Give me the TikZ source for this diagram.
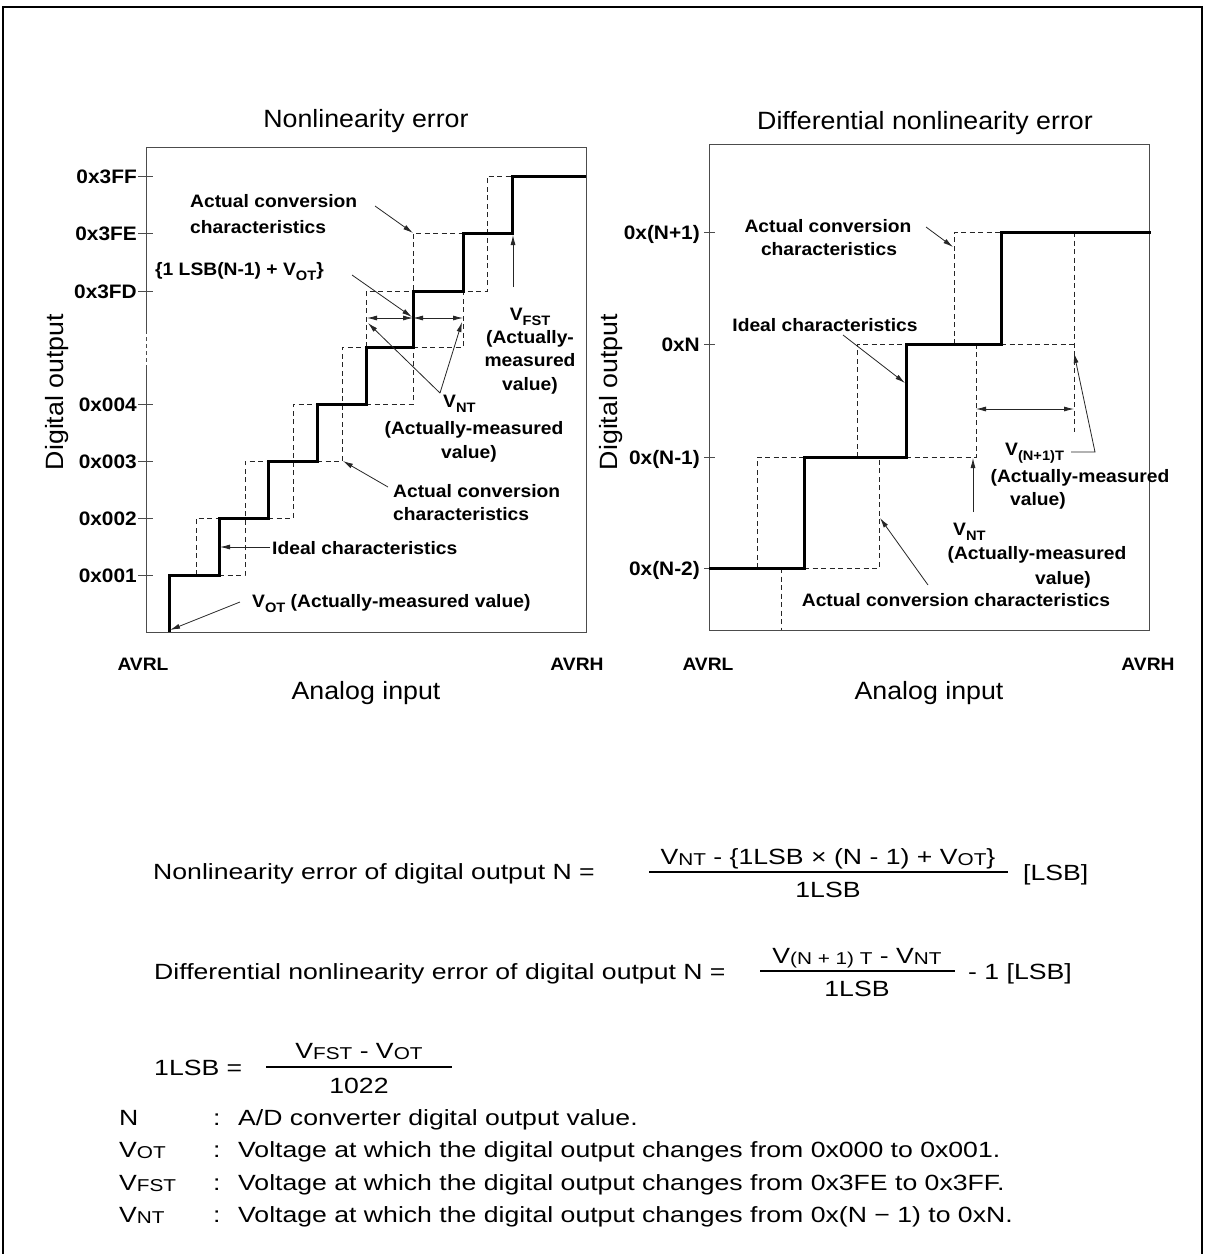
\documentclass[tikz,border=0pt]{standalone}
\usepackage{fontspec}
\usepackage{graphicx}
\setmainfont{Liberation Sans}
\newfontfamily\chartfam[FakeStretch=1.07]{Liberation Sans}
\newfontfamily\formfam[FakeStretch=1.21]{Liberation Sans}
\usetikzlibrary{arrows.meta}
\newcommand\lblfont{\fontsize{18}{22}\selectfont\chartfam\bfseries}
\newcommand\tickfont{\fontsize{19.5}{23}\selectfont\chartfam\bfseries}
\newcommand\ttlfont{\fontsize{25}{30}\selectfont\chartfam}
\newcommand\frmfont{\fontsize{22}{26}\selectfont\formfam}
\newcommand\csub[1]{\raisebox{-0.28em}{\scalebox{0.76}{#1}}}
\newcommand\fsub[1]{\raisebox{-0.08em}{\scalebox{0.78}{#1}}}
\begin{document}
\begin{tikzpicture}[x=1pt,y=-1pt,
  lbl/.style={font=\lblfont,inner sep=0pt},
  tick/.style={font=\tickfont,inner sep=0pt,anchor=base east},
  ttl/.style={font=\ttlfont,inner sep=0pt,anchor=base},
  frm/.style={font=\frmfont,inner sep=0pt},
  boxline/.style={line width=1pt,draw=black!70},
  ideal/.style={line width=3pt,line cap=butt,line join=miter},
  actual/.style={line width=0.9pt,dash pattern=on 5pt off 3.5pt,draw=black!85},
  lead/.style={line width=0.8pt,draw=black!85,-{Latex[length=10pt,width=5pt]}},
  dlead/.style={line width=0.8pt,draw=black!85,{Latex[length=10pt,width=5pt]}-{Latex[length=10pt,width=5pt]}},
  fracline/.style={line width=1.3pt}
]
\useasboundingbox (0,0) rectangle (1205,1254);
\fill[white] (0,0) rectangle (1205,1254);
% outer frame
\draw[line width=2pt] (3,1254) -- (3,7) -- (1202,7) -- (1202,1254);

% ================= LEFT CHART =================
\node[ttl] (t1) at (366,127) {Nonlinearity error};
\draw[boxline] (146,330) -- (146,147) -- (586,147) -- (586,632) -- (146,632) -- (146,368);
\draw[boxline,dash pattern=on 4pt off 3pt] (146,330) -- (146,368);
\foreach \yy in {176,233,291,404,461,518,575} \draw[boxline] (138,\yy) -- (153,\yy);
\node[tick] (l3ff) at (137,183.5) {0x3FF};
\node[tick] (l3fe) at (137,240.5) {0x3FE};
\node[tick] (l3fd) at (137,298.5) {0x3FD};
\node[tick] (l004) at (137,411.5) {0x004};
\node[tick] (l003) at (137,468.5) {0x003};
\node[tick] (l002) at (137,525.5) {0x002};
\node[tick] (l001) at (137,582.5) {0x001};
\node[lbl,anchor=base] (avrl1) at (143,670) {AVRL};
\node[lbl,anchor=base] (avrh1) at (577,670) {AVRH};
\node[ttl] (ain1) at (366,699) {Analog input};
\node[font=\ttlfont,inner sep=0pt,rotate=90] (dout1) at (57,392) {Digital output};

% actual (dashed)
\draw[actual] (196,575) -- (196,518) -- (219,518);
\draw[actual] (219,575) -- (245,575) -- (245,461) -- (268,461);
\draw[actual] (268,518) -- (293,518) -- (293,404) -- (317,404);
\draw[actual] (317,461) -- (342,461) -- (342,347) -- (366,347);
\draw[actual] (366,404) -- (413,404) -- (413,233) -- (463,233);
\draw[actual] (366,347) -- (366,291) -- (413,291);
\draw[actual] (413,347) -- (463,347) -- (463,291) -- (487,291) -- (487,176) -- (512,176);
% ideal (thick)
\draw[ideal] (169,632) -- (169,575) -- (219,575) -- (219,518) -- (268,518) -- (268,461) -- (317,461) -- (317,404) -- (366,404) -- (366,347) -- (413,347) -- (413,291) -- (463,291) -- (463,233) -- (512,233) -- (512,176) -- (586,176);

% labels left
\node[lbl,anchor=base west] (acA1) at (190,207) {Actual conversion};
\node[lbl,anchor=base west] (acA2) at (190,233) {characteristics};
\node[lbl,anchor=base west] (lsbn) at (155,275) {\{1 LSB(N-1) + V\csub{OT}\}};
\node[lbl,anchor=base] (vfst1) at (530,320) {V\csub{FST}};
\node[lbl,anchor=base] (vfst2) at (530,343) {(Actually-};
\node[lbl,anchor=base] (vfst3) at (530,366) {measured};
\node[lbl,anchor=base] (vfst4) at (530,390) {value)};
\node[lbl,anchor=base west] (vnt1) at (443,407) {V\csub{NT}};
\node[lbl,anchor=base] (vnt2) at (474,434) {(Actually-measured};
\node[lbl,anchor=base] (vnt3) at (469,458) {value)};
\node[lbl,anchor=base west] (acB1) at (393,497) {Actual conversion};
\node[lbl,anchor=base west] (acB2) at (393,520) {characteristics};
\node[lbl,anchor=base west] (ideal1) at (272,554) {Ideal characteristics};
\node[lbl,anchor=base west] (vot1) at (252,607) {V\csub{OT} (Actually-measured value)};

% arrows left
\coordinate (pA) at (413,233);
\coordinate (pB) at (412,317);
\coordinate (pL) at (367,318);
\coordinate (pM) at (413,318);
\coordinate (pR) at (463,318);
\coordinate (pJ) at (440,393);
\coordinate (pFt) at (513,287);
\coordinate (pFh) at (513,235);
\coordinate (pC) at (343,461);
\coordinate (pI) at (220,547);
\coordinate (pO) at (170,630);
\draw[lead] (375,206) -- (pA);
\draw[lead] (352,275) -- (pB);
\draw[dlead] (pL) -- (pM);
\draw[dlead] (pM) -- (pR);
\draw[lead] (pJ) -- (368,323);
\draw[lead] (pJ) -- (462,322);
\draw[lead] (pFt) -- (pFh);
\draw[lead] (388,487) -- (pC);
\draw[lead] (270,547) -- (pI);
\draw[lead] (240,602) -- (pO);

% ================= RIGHT CHART =================
\node[ttl] (t2) at (925,129) {Differential nonlinearity error};
\draw[boxline] (709,144) rectangle (1149,630);
\foreach \yy in {232,344,457,568} \draw[boxline] (704,\yy) -- (715,\yy);
\node[tick] (rn1) at (700,239.5) {0x(N+1)};
\node[tick] (rn) at (700,351.5) {0xN};
\node[tick] (rnm1) at (700,464.5) {0x(N-1)};
\node[tick] (rnm2) at (700,575.5) {0x(N-2)};
\node[lbl,anchor=base] (avrl2) at (708,670) {AVRL};
\node[lbl,anchor=base] (avrh2) at (1148,670) {AVRH};
\node[ttl] (ain2) at (929,699) {Analog input};
\node[font=\ttlfont,inner sep=0pt,rotate=90] (dout2) at (611,392) {Digital output};

\draw[actual] (757,568) -- (757,457) -- (804,457);
\draw[actual] (781,568) -- (781,630);
\draw[actual] (804,568) -- (879,568) -- (879,457);
\draw[actual] (857,457) -- (857,344) -- (906,344);
\draw[actual] (906,457) -- (976,457) -- (976,344);
\draw[actual] (954,344) -- (954,232) -- (1001,232);
\draw[actual] (1001,344) -- (1074,344);
\draw[actual] (1074,232) -- (1074,432);
\draw[ideal] (709,568) -- (804,568) -- (804,457) -- (906,457) -- (906,344) -- (1001,344) -- (1001,232) -- (1151,232);

\node[lbl,anchor=base] (acC1) at (828,232) {Actual conversion};
\node[lbl,anchor=base] (acC2) at (829,255) {characteristics};
\node[lbl,anchor=base] (ideal2) at (825,331) {Ideal characteristics};
\node[lbl,anchor=base west] (vn1a) at (1005,455) {V\csub{(N+1)T}};
\node[lbl,anchor=base] (vn1b) at (1080,482) {(Actually-measured};
\node[lbl,anchor=base] (vn1c) at (1038,505) {value)};
\node[lbl,anchor=base west] (vntA) at (953,535) {V\csub{NT}};
\node[lbl,anchor=base] (vntB) at (1037,559) {(Actually-measured};
\node[lbl,anchor=base] (vntC) at (1063,584) {value)};
\node[lbl,anchor=base] (acD) at (956,606) {Actual conversion characteristics};

\coordinate (qA) at (953,247);
\coordinate (qI) at (905,383);
\coordinate (qL) at (976,409);
\coordinate (qR) at (1074,409);
\coordinate (qK) at (1095,452);
\coordinate (qT) at (1074,353);
\coordinate (qV) at (973,458);
\coordinate (qC) at (880,518);
\draw[lead] (926,227) -- (qA);
\draw[lead] (843,335) -- (qI);
\draw[dlead] (qL) -- (qR);
\draw[lead] (1071,452) -- (qK) -- (qT);
\draw[lead] (973,512) -- (qV);
\draw[lead] (928,585) -- (qC);

% ================= FORMULAS =================
\node[frm,anchor=base west] (f1l) at (153,879) {Nonlinearity error of digital output N =};
\node[frm,anchor=base] (f1n) at (828,864) {V\fsub{NT} - \{1LSB × (N - 1) + V\fsub{OT}\}};
\draw[fracline] (649,872) -- (1008,872);
\node[frm,anchor=base] (f1d) at (828,897) {1LSB};
\node[frm,anchor=base west] (f1u) at (1023,880) {[LSB]};

\node[frm,anchor=base west] (f2l) at (154,979) {Differential nonlinearity error of digital output N =};
\node[frm,anchor=base] (f2n) at (857,963) {V\fsub{(N + 1) T} - V\fsub{NT}};
\draw[fracline] (760,971) -- (955,971);
\node[frm,anchor=base] (f2d) at (857,996) {1LSB};
\node[frm,anchor=base west] (f2u) at (968,979) {- 1 [LSB]};

\node[frm,anchor=base west] (f3l) at (154,1075) {1LSB =};
\node[frm,anchor=base] (f3n) at (359,1058) {V\fsub{FST} - V\fsub{OT}};
\draw[fracline] (266,1067) -- (452,1067);
\node[frm,anchor=base] (f3d) at (359,1093) {1022};

\node[frm,anchor=base west] (gN) at (119,1125) {N};
\node[frm,anchor=base west] (gNc) at (213,1125) {:};
\node[frm,anchor=base west] (gNt) at (238,1125) {A/D converter digital output value.};
\node[frm,anchor=base west] (gO) at (119,1157) {V\fsub{OT}};
\node[frm,anchor=base west] (gOc) at (213,1157) {:};
\node[frm,anchor=base west] (gOt) at (238,1157) {Voltage at which the digital output changes from 0x000 to 0x001.};
\node[frm,anchor=base west] (gF) at (119,1190) {V\fsub{FST}};
\node[frm,anchor=base west] (gFc) at (213,1190) {:};
\node[frm,anchor=base west] (gFt) at (238,1190) {Voltage at which the digital output changes from 0x3FE to 0x3FF.};
\node[frm,anchor=base west] (gV) at (119,1222) {V\fsub{NT}};
\node[frm,anchor=base west] (gVc) at (213,1222) {:};
\node[frm,anchor=base west] (gVt) at (238,1222) {Voltage at which the digital output changes from 0x(N − 1) to 0xN.};
\end{tikzpicture}
\end{document}
